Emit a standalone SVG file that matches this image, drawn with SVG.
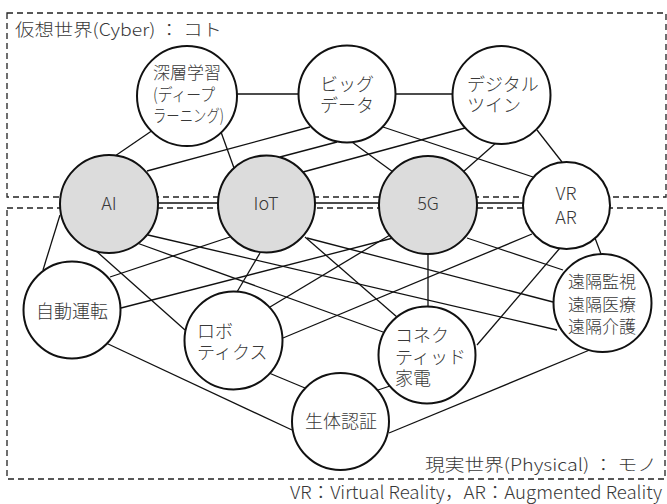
<svg xmlns="http://www.w3.org/2000/svg" width="667" height="504" viewBox="0 0 667 504">
<style>
.box{fill:none;stroke:#222;stroke-width:1.3;stroke-dasharray:6 4}
.e{stroke:#111;stroke-width:1.3;fill:none}
.n{fill:#fff;stroke:#111;stroke-width:2}
.g{fill:#dcdcdc;stroke:#111;stroke-width:2}
text{font-family:"Noto Sans CJK JP","Noto Sans",sans-serif;fill:#383838;font-size:18px;font-weight:300}
.m{text-anchor:middle}
.s{font-size:17px}
</style>
<rect width="667" height="504" fill="#fff"/>
<g id="areas">
<rect class="box" x="7" y="13" width="659" height="184"/>
<rect class="box" x="7" y="208" width="658" height="271"/>
</g>
<g id="connectors">
<line class="e" x1="237" y1="94" x2="298" y2="94"/>
<line class="e" x1="396" y1="94" x2="452" y2="94"/>
<line class="e" x1="153" y1="130" x2="115" y2="156"/>
<line class="e" x1="221" y1="132" x2="234" y2="168"/>
<line class="e" x1="147" y1="171" x2="310" y2="127"/>
<line class="e" x1="280" y1="157" x2="337" y2="142"/>
<line class="e" x1="303" y1="172" x2="465" y2="128"/>
<line class="e" x1="352" y1="142" x2="393" y2="172"/>
<line class="e" x1="383" y1="127" x2="533" y2="177"/>
<line class="e" x1="497" y1="142" x2="463" y2="172"/>
<line class="e" x1="537" y1="130" x2="562" y2="162"/>
<line class="e" x1="158" y1="203" x2="218" y2="203"/>
<line class="e" x1="315" y1="203" x2="379" y2="203"/>
<line class="e" x1="477" y1="203" x2="524" y2="203"/>
<line class="e" x1="60" y1="215" x2="43" y2="270"/>
<line class="e" x1="95" y1="250" x2="185" y2="330"/>
<line class="e" x1="137" y1="243" x2="383" y2="332"/>
<line class="e" x1="148" y1="235" x2="557" y2="330"/>
<line class="e" x1="230" y1="237" x2="110" y2="277"/>
<line class="e" x1="260" y1="253" x2="237" y2="292"/>
<line class="e" x1="305" y1="237" x2="397" y2="317"/>
<line class="e" x1="307" y1="238" x2="553" y2="302"/>
<line class="e" x1="393" y1="238" x2="121" y2="308"/>
<line class="e" x1="390" y1="235" x2="270" y2="307"/>
<line class="e" x1="428" y1="253" x2="428" y2="307"/>
<line class="e" x1="467" y1="238" x2="563" y2="270"/>
<line class="e" x1="532" y1="234" x2="283" y2="338"/>
<line class="e" x1="560" y1="248" x2="477" y2="345"/>
<line class="e" x1="595" y1="238" x2="601" y2="254"/>
<line class="e" x1="106" y1="343" x2="292" y2="430"/>
<line class="e" x1="269" y1="373" x2="305" y2="388"/>
<line class="e" x1="378" y1="390" x2="393" y2="385"/>
<line class="e" x1="592" y1="349" x2="389" y2="433"/>
</g>
<g id="label-cyber"><text x="15" y="36" class="s" textLength="207" lengthAdjust="spacingAndGlyphs">仮想世界(Cyber) ： コト</text></g>
<g id="label-physical"><text x="425" y="471" class="s" textLength="232" lengthAdjust="spacingAndGlyphs">現実世界(Physical) ： モノ</text></g>
<g id="note"><text x="290" y="499" font-size="16" textLength="372" lengthAdjust="spacingAndGlyphs">VR：Virtual Reality，AR：Augmented Reality</text></g>
<g id="deep-learning"><circle class="n" cx="187" cy="96" r="50"/>
<text class="s"><tspan x="153" y="79">深層学習</tspan><tspan x="153" y="101" textLength="62" lengthAdjust="spacingAndGlyphs">(ディープ</tspan><tspan x="153" y="122" textLength="71" lengthAdjust="spacingAndGlyphs">ラーニング)</tspan></text></g>
<g id="big-data"><circle class="n" cx="347" cy="94" r="48.5"/>
<text class="m"><tspan x="347" y="91">ビッグ</tspan><tspan x="347" y="112">データ</tspan></text></g>
<g id="digital-twin"><circle class="n" cx="501.5" cy="95" r="49"/>
<text><tspan x="467" y="91">デジタル</tspan><tspan x="467" y="112">ツイン</tspan></text></g>
<g id="ai"><circle class="g" cx="109" cy="204" r="49"/><text x="109" y="210" class="m">AI</text></g>
<g id="iot"><circle class="g" cx="266.5" cy="204" r="48.5"/><text x="266" y="210" class="m">IoT</text></g>
<g id="5g"><circle class="g" cx="428" cy="205" r="49"/><text x="428" y="210" class="m">5G</text></g>
<g id="vr-ar"><circle class="n" cx="566.5" cy="205.5" r="43.5"/>
<text class="m"><tspan x="566" y="200">VR</tspan><tspan x="566" y="224">AR</tspan></text></g>
<g id="autonomous-driving"><circle class="n" cx="72" cy="310" r="48.5"/><text x="72" y="318" class="m">自動運転</text></g>
<g id="robotics"><circle class="n" cx="233.5" cy="340.5" r="49"/>
<text><tspan x="197" y="338">ロボ</tspan><tspan x="197" y="359">ティクス</tspan></text></g>
<g id="connected-appliances"><circle class="n" cx="427" cy="355" r="48.5"/>
<text><tspan x="395" y="342">コネク</tspan><tspan x="395" y="364">ティッド</tspan><tspan x="395" y="385">家電</tspan></text></g>
<g id="remote"><circle class="n" cx="602.5" cy="303" r="49"/>
<text class="s"><tspan x="568" y="288">遠隔監視</tspan><tspan x="568" y="311">遠隔医療</tspan><tspan x="568" y="333">遠隔介護</tspan></text></g>
<g id="biometrics"><circle class="n" cx="340.5" cy="421.5" r="48.5"/><text x="341" y="428" class="m">生体認証</text></g>
</svg>
